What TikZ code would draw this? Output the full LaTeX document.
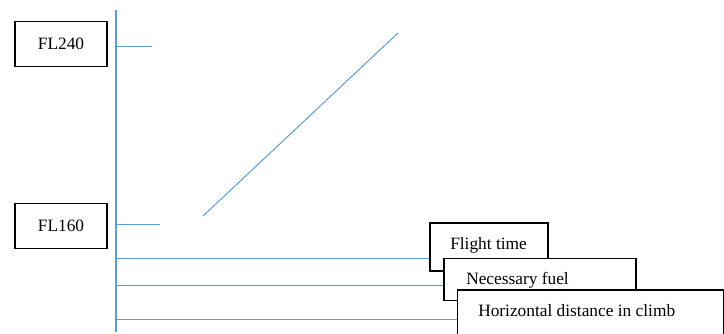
\documentclass[tikz,border=0pt]{standalone}
\usepackage{fontspec}
\setmainfont{Liberation Serif}
\usetikzlibrary{positioning, calc}
\definecolor{mBlue}{HTML}{5B9BD5}
\tikzset{
  flbox/.style={draw, line width=0.8pt, fill=white, inner sep=0pt, outer sep=0pt,
                minimum width=69pt, minimum height=34pt, font=\fontsize{13}{15}\selectfont},
  lblbox/.style={draw, line width=0.8pt, fill=white, inner sep=0pt, outer sep=0pt,
                 minimum height=36pt, font=\fontsize{13}{15}\selectfont},
  lbltxt/.style={font=\fontsize{13}{15}\selectfont, anchor=base west, inner sep=0pt},
  axline/.style={mBlue, line width=1.1pt},
  gline/.style={mBlue, line width=0.75pt},
}

\begin{document}
\begin{tikzpicture}[x=0.75pt, y=-0.75pt]
    \clip (0,0) rectangle (724,334);
    % axis
    \coordinate (top) at (116,10);
    \coordinate (bot) at (116,332);
    \draw[axline] (top) -- (bot);
    % levels
    \node[flbox] (fl240) at (61,44) {FL240};
    \node[flbox] (fl160) at (61,226) {FL160};
    \coordinate (t240) at (116,47);
    \coordinate (t160) at (116,225);
    \draw[gline] (t240) -- ++(36,0);
    \draw[gline] (t160) -- ++(44,0);
    % climb
    \coordinate (c0) at (203,216);
    \coordinate (c1) at (398,33);
    \draw[gline] (c0) -- (c1);
    % outputs
    \coordinate (a1) at (116,259);
    \coordinate (a2) at (116,286);
    \coordinate (a3) at (116,320);
    \draw[gline] (a1) -- (489,259);
    \node[lblbox, minimum width=88.5pt] (time) at (489,247) {};
    \node[lbltxt] (timelbl) at (450,250) {Flight time};
    \draw[gline] (a2) -- (540,286);
    \node[lblbox, minimum width=144pt, minimum height=32pt] (fuel) at (540,279.5) {};
    \node[lbltxt] (fuellbl) at (466,285) {Necessary fuel};
    \draw[gline] (a3) -- (591,320);
    \node[lblbox, minimum width=199.5pt, minimum height=45pt] (dist) at (590.5,320) {};
    \node[lbltxt] (distlbl) at (478,317) {Horizontal distance in climb};
\end{tikzpicture}
\end{document}
